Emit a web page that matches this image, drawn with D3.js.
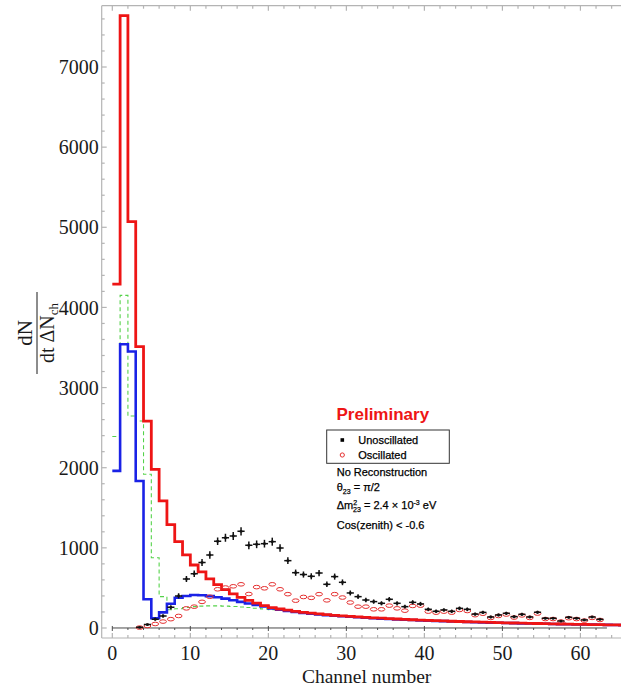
<!DOCTYPE html>
<html><head><meta charset="utf-8">
<script src="https://cdn.jsdelivr.net/npm/d3@7"></script>
<style>html,body{margin:0;padding:0;background:#fff;}svg{display:block;}</style>
</head><body>
<svg id="chart" width="621" height="689"></svg>
<script>
// ---- data ----
const redHist = [4290,7640,5070,3510,2580,1980,1585,1290,1078,912,786,700,612,540,478,426,382,345,310,280,254,237,222,208,196,185,175,166,158,151,145,139,133,127,122,117,112,107,103,99,95,91,88,84,81,78,75,72,69,67,64,62,60,58,56,54,52,50,48,46,45,43,42,40,39,37];
const blueHist = [1960,3540,3450,1835,358,121,195,303,378,400,411,408,398,384,366,346,326,306,287,268,244,228,213,200,188,177,168,160,153,146,140,134,128,122,117,112,108,103,99,95,92,88,85,81,78,75,72,70,67,65,62,60,58,56,54,52,50,48,47,45,44,42,41,39,38,36];
const greenHist = [2390,4150,2645,2583,1918,877,391,228,240,255,266,273,276,276,273,268,262,255,247,238,229,219,209,198,187,176,166,157,150,143,137,132,126,121,116,111,107,102,98,94,91,87,84,80,77,74,71,69,66,64,61,59,57,55,53,51,49,47,46,44,43,41,40,38,37,35];
const pointX = [3.5,4.5,5.5,6.5,7.5,8.5,9.5,10.5,11.5,12.5,13.5,14.5,15.5,16.5,17.5,18.5,19.5,20.5,21.5,22.5,23.5,24.5,25.5,26.5,27.5,28.5,29.5,30.5,31.5,32.5,33.5,34.5,35.5,36.5,37.5,38.5,39.5,40.5,41.5,42.5,43.5,44.5,45.5,46.5,47.5,48.5,49.5,50.5,51.5,52.5,53.5,54.5,55.5,56.5,57.5,58.5,59.5,60.5,61.5,62.5];
const unosc = [8,42,110,150,258,400,611,676,817,911,1082,1125,1148,1206,1031,1044,1052,1077,998,840,690,667,645,686,545,641,570,437,391,349,329,308,358,308,266,320,300,233,208,225,208,245,233,173,194,137,162,183,141,170,137,196,121,121,87,133,121,100,137,108];
const unoscErr = [10,15,20,22,26,32,38,40,44,46,48,50,50,52,48,48,48,50,47,43,39,38,38,39,35,38,36,31,30,28,27,26,28,26,24,27,26,23,22,22,22,23,23,20,21,18,19,20,18,19,17,20,16,16,14,17,16,15,17,15];
const osc = [5,25,50,80,110,150,245,266,326,390,483,505,520,545,424,510,495,545,483,422,341,387,376,422,345,422,380,318,266,266,233,233,279,245,216,275,279,204,191,204,191,225,212,160,178,125,150,168,130,157,126,180,112,112,80,122,112,92,126,100];
const yTickVals = [0,1000,2000,3000,4000,5000,6000,7000];
const xTickVals = [0,10,20,30,40,50,60];
const legendItems = ["Unoscillated","Oscillated"];

// ---- layout ----
const svg = d3.select("#chart");
const xDom = [-1.36, 65.2], yDom = [-125, 7765];
const x = d3.scaleLinear().domain(xDom).range([101.7, 621]);
const y = d3.scaleLinear().domain(yDom).range([638, 5.7]);
const L = x(xDom[0]), R = x(xDom[1]), T = y(yDom[1]), B = y(yDom[0]);
const frameCol = "#b4b4b4";

svg.append("clipPath").attr("id","clip").append("rect")
  .attr("x",L).attr("y",T).attr("width",R-L).attr("height",B-T);

// frame
const fr = svg.append("g").attr("stroke",frameCol).attr("stroke-width",1.2).attr("fill","none");
fr.append("line").attr("x1",L).attr("x2",L).attr("y1",T).attr("y2",B);
fr.append("line").attr("x1",L).attr("x2",R).attr("y1",T).attr("y2",T);
fr.append("line").attr("x1",L).attr("x2",R).attr("y1",B).attr("y2",B);
d3.range(0, 7700, 200).forEach(v => {
  const len = v % 1000 === 0 ? 5 : 3;
  fr.append("line").attr("x1",L).attr("x2",L+len).attr("y1",y(v)).attr("y2",y(v));
});
d3.range(0, 66, 2).forEach(v => {
  const len = v % 10 === 0 ? 5 : 3;
  fr.append("line").attr("x1",x(v)).attr("x2",x(v)).attr("y1",B).attr("y2",B-len);
  fr.append("line").attr("x1",x(v)).attr("x2",x(v)).attr("y1",T).attr("y2",T+len);
});

// tick labels
const serif = "'Liberation Serif','Times New Roman',serif";
svg.append("g").selectAll("text").data(yTickVals).join("text")
  .attr("x", L-3).attr("y", d=>y(d)).attr("dy","0.36em")
  .attr("text-anchor","end").attr("font-family",serif).attr("font-size",20).attr("fill","#1a1a1a")
  .text(d=>d);
svg.append("g").selectAll("text").data(xTickVals).join("text")
  .attr("x", d=>x(d)).attr("y", 660)
  .attr("text-anchor","middle").attr("font-family",serif).attr("font-size",20).attr("fill","#1a1a1a")
  .text(d=>d);
svg.append("text").attr("x", x(32.6)).attr("y", 683).attr("text-anchor","middle")
  .attr("font-family",serif).attr("font-size",19.5).attr("fill","#1a1a1a").text("Channel number");

// y label fraction
const yl = svg.append("g").attr("transform","translate(37,333) rotate(-90)")
  .attr("font-family",serif).attr("fill","#1a1a1a");
yl.append("line").attr("x1",-41).attr("x2",41).attr("y1",0).attr("y2",0).attr("stroke","#1a1a1a").attr("stroke-width",1);
yl.append("text").attr("x",0).attr("y",-5).attr("text-anchor","middle").attr("font-size",21).text("dN");
const den = yl.append("text").attr("x",0).attr("y",17).attr("text-anchor","middle").attr("font-size",20);
den.append("tspan").text("dt ΔN");
den.append("tspan").attr("font-size",13).attr("dy",4).text("ch");

// inner data axis line at zero
const ax = svg.append("g").attr("stroke","#4a4a4a").attr("stroke-width",1);
ax.append("line").attr("x1",x(0)).attr("x2",x(63.4)).attr("y1",y(0)).attr("y2",y(0));
d3.range(0, 64, 2).forEach(v => {
  const big = v % 10 === 0;
  ax.append("line").attr("x1",x(v)).attr("x2",x(v)).attr("y1",y(0)+(big?-2:0)).attr("y2",y(0)+(big?3:2));
});

// histograms
const plot = svg.append("g").attr("clip-path","url(#clip)");
const stepLine = d3.line().x(d=>x(d[0])).y(d=>y(d[1])).curve(d3.curveStepAfter);
function histPts(arr){ const p = arr.map((v,i)=>[i,v]); p.push([arr.length, arr[arr.length-1]]); return p; }
plot.append("path").attr("d", stepLine(histPts(greenHist))).attr("fill","none")
  .attr("stroke","#55d24a").attr("stroke-width",1.1).attr("stroke-dasharray","4,3");
plot.append("path").attr("d", stepLine(histPts(blueHist))).attr("fill","none")
  .attr("stroke","#1a22e6").attr("stroke-width",2.6);
plot.append("path").attr("d", stepLine(histPts(redHist))).attr("fill","none")
  .attr("stroke","#ee1515").attr("stroke-width",2.8);

// oscillated circles
plot.append("g").selectAll("ellipse").data(pointX).join("ellipse")
  .attr("cx",(d)=>x(d)).attr("cy",(d,i)=>y(osc[i])).attr("rx",3.4).attr("ry",1.8)
  .attr("fill","none").attr("stroke","#e53030").attr("stroke-width",1);

// unoscillated crosses
const cr = plot.append("g").attr("stroke","#111").attr("stroke-width",1.5);
pointX.forEach((c,i) => {
  const v = unosc[i], e = unoscErr[i];
  cr.append("line").attr("x1",x(c-0.46)).attr("x2",x(c+0.46)).attr("y1",y(v)).attr("y2",y(v));
  cr.append("line").attr("x1",x(c)).attr("x2",x(c)).attr("y1",y(v-e)).attr("y2",y(v+e));
  cr.append("rect").attr("x",x(c)-1.2).attr("y",y(v)-1.2).attr("width",2.4).attr("height",2.4).attr("fill","#111").attr("stroke","none");
});

// legend / annotations
const sans = "'Liberation Sans',Arial,sans-serif";
svg.append("text").attr("x",336.5).attr("y",419.5).attr("font-family",sans).attr("font-weight","bold")
  .attr("font-size",17).attr("fill","#ee1515").text("Preliminary");
svg.append("rect").attr("x",326.7).attr("y",430).attr("width",122.6).attr("height",33.3)
  .attr("fill","#fff").attr("stroke","#333").attr("stroke-width",1);
svg.append("rect").attr("x",340.5).attr("y",438.2).attr("width",3.6).attr("height",3.6).attr("fill","#000");
svg.append("circle").attr("cx",342.3).attr("cy",455).attr("r",2.1).attr("fill","none").attr("stroke","#e53030").attr("stroke-width",1);
svg.append("g").selectAll("text").data(legendItems).join("text")
  .attr("x",358.3).attr("y",(d,i)=>443.5+i*15).attr("font-family",sans).attr("font-size",11).attr("fill","#000")
  .attr("stroke","#000").attr("stroke-width",0.25)
  .text(d=>d);

const ann = svg.append("g").attr("font-family",sans).attr("font-size",11).attr("fill","#000")
  .attr("stroke","#000").attr("stroke-width",0.25);
ann.append("text").attr("x",336.7).attr("y",476).text("No Reconstruction");
const t1 = ann.append("text").attr("x",336.7).attr("y",491);
t1.append("tspan").text("θ");
t1.append("tspan").attr("font-size",7).attr("dy",3).text("23");
t1.append("tspan").attr("dy",-3).text(" = π/2");
const t2 = ann.append("text").attr("x",336.7).attr("y",509);
t2.append("tspan").text("Δm");
t2.append("tspan").attr("font-size",7).attr("dy",-4.5).text("2");
t2.append("tspan").attr("font-size",7).attr("dx",-4).attr("dy",7.5).text("23");
t2.append("tspan").attr("dy",-3).text(" = 2.4 × 10");
t2.append("tspan").attr("font-size",7).attr("dy",-4.5).text("-3");
t2.append("tspan").attr("dy",4.5).text(" eV");
ann.append("text").attr("x",336.7).attr("y",528.5).text("Cos(zenith) < -0.6");
</script>
</body></html>
